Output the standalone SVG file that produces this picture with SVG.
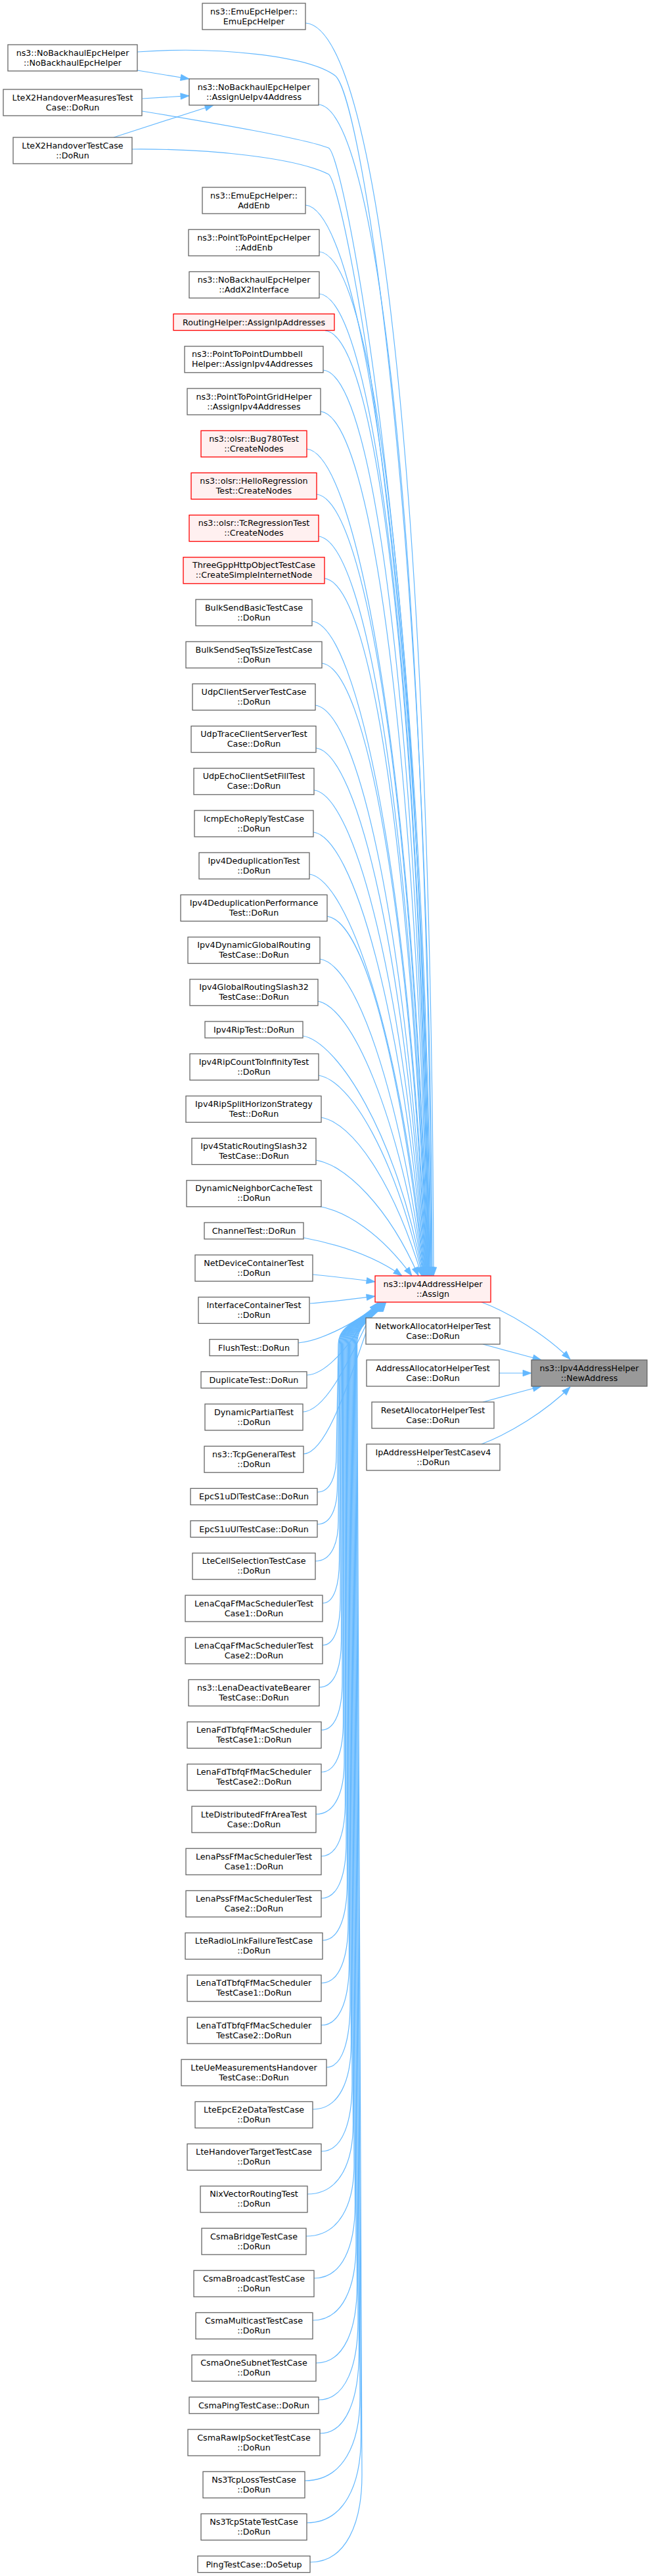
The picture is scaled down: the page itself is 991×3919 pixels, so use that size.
<svg xmlns="http://www.w3.org/2000/svg" width="991" height="3919" viewBox="0 0 991 3919">
<style>
.n rect{fill:#ffffff;stroke:#666666;stroke-width:1.3}
.r rect{fill:#fff0f0;stroke:#ff0000;stroke-width:1.3}
.g rect{fill:#999999;stroke:#666666;stroke-width:1.3}
text{font-family:"DejaVu Sans","Liberation Sans",sans-serif;font-size:12.7px;text-anchor:middle;fill:#000000}
#edges path{fill:none;stroke:#63b8ff;stroke-width:1.2;marker-end:url(#ah)}
</style>
<defs>
<marker id="ah" viewBox="0 0 13 10" refX="13" refY="5" markerWidth="13" markerHeight="10" markerUnits="userSpaceOnUse" orient="auto" overflow="visible"><path d="M0,0.3 L13,5 L0,9.7 z" fill="#63b8ff" stroke="#63b8ff" stroke-width="0.8"/></marker>
</defs>
<rect x="0" y="0" width="991" height="3919" fill="#ffffff"/>
<g id="edges">
<path d="M209,107 L288,120"/>
<path d="M216.7,150 L288,145.7"/>
<path d="M173,209 L325,160"/>
<path d="M465,35 C580,43 657,797 660,1941"/>
<path d="M209,79 C330,70 470,85 510,115 C550,145 655,800 658,1941"/>
<path d="M485,159 C578,167 651,872 657,1941"/>
<path d="M216,169 C330,188 460,210 500,225 C525,234 650,900 656,1941"/>
<path d="M201,227 C320,226 450,240 500,265 C522,276 648,900 655,1941"/>
<path d="M465,312 C554,320 645,964 654,1941"/>
<path d="M486,383 C573,391 642,1006 653.5,1941"/>
<path d="M486,447 C571,455 640,1045 653,1941"/>
<path d="M495,503 C578,511 638,1078 652.5,1941"/>
<path d="M492,563 C573,571 636,1114 652,1941"/>
<path d="M488,626 C567,634 634,1152 651.5,1941"/>
<path d="M467,683 C545,691 632,1186 651,1941"/>
<path d="M482,752 C558,760 630,1228 650.5,1941"/>
<path d="M485,816 C559,824 628,1266 650,1941"/>
<path d="M494,880 C566,888 626,1304 649.5,1941"/>
<path d="M475,945 C545,953 624,1343 649,1941"/>
<path d="M490,1009 C558,1017 622,1382 648.5,1941"/>
<path d="M480,1073 C546,1081 620,1420 648,1941"/>
<path d="M481,1138 C545,1146 618,1459 647.5,1941"/>
<path d="M478,1202 C540,1210 615.5,1498 647,1941"/>
<path d="M477,1266 C537,1274 613,1536 646.5,1941"/>
<path d="M471,1330 C529,1338 611,1574 646,1941"/>
<path d="M498,1394 C554,1402 609,1613 645.5,1941"/>
<path d="M487,1459 C541,1467 607,1652 645,1941"/>
<path d="M483,1523 C535,1531 605,1690 644.5,1941"/>
<path d="M461,1576 C512,1584 603,1722 644,1941"/>
<path d="M485,1636 C534,1644 600.6,1758 643,1941"/>
<path d="M489,1700 C536,1708 598,1796 642,1941"/>
<path d="M481,1765 C526,1773 591,1835 637,1941"/>
<path d="M485,1835 C528,1843 580,1877 627,1941"/>
<path d="M462,1883 C504,1891 563,1906 612,1941"/>
<path d="M476,1939 C510,1942 540,1946 571,1950"/>
<path d="M472,1983 C510,1980 540,1976 571,1972"/>
<path d="M454,2043 C490,2040 555,2006 575,1982"/>
<path d="M467,2092 C510,2090 555.5,2006 575.5,1982"/>
<path d="M461,2148 C508,2146 556,2006 576,1982"/>
<path d="M462,2212 C510,2210 556.5,2006 576.5,1982"/>
<path d="M483,2270 C503.3,2270 512,2245 512,2215 L515,2045 C515,2012 559,2006 577,1982"/>
<path d="M483,2319 C504.4,2319 513.5,2293 513.5,2261 L516.1,2045 C516.1,2012 559.4,2006 577.4,1982"/>
<path d="M480,2375 C504.5,2375 515,2348 515,2314 L517.2,2045 C517.2,2012 559.8,2006 577.8,1982"/>
<path d="M491,2439 C508.9,2439 516.5,2410 516.5,2375 L518.3,2045 C518.3,2012 560.2,2006 578.2,1982"/>
<path d="M491,2503 C509.9,2503 518,2473 518,2436 L519.4,2045 C519.4,2012 560.6,2006 578.6,1982"/>
<path d="M486,2567 C509.5,2567 519.5,2536 519.5,2497 L520.5,2045 C520.5,2012 561,2006 579,1982"/>
<path d="M489,2632 C511.4,2632 521,2599 521,2559 L521.6,2045 C521.6,2012 561.4,2006 579.4,1982"/>
<path d="M489,2696 C512.5,2696 522.5,2662 522.5,2620 L522.7,2045 C522.7,2012 561.8,2006 579.8,1982"/>
<path d="M481,2760 C511.1,2760 524,2724 524,2681 L523.8,2045 C523.8,2012 562.2,2006 580.2,1982"/>
<path d="M489,2824 C514.6,2824 525.5,2787 525.5,2742 L524.9,2045 C524.9,2012 562.6,2006 580.6,1982"/>
<path d="M489,2888 C515.6,2888 527,2850 527,2803 L526,2045 C526,2012 563,2006 581,1982"/>
<path d="M491,2952 C517.3,2952 528.5,2912 528.5,2864 L527.1,2045 C527.1,2012 563.4,2006 581.4,1982"/>
<path d="M489,3017 C517.7,3017 530,2976 530,2926 L528.2,2045 C528.2,2012 563.8,2006 581.8,1982"/>
<path d="M489,3081 C518.8,3081 531.5,3039 531.5,2987 L529.3,2045 C529.3,2012 564.2,2006 582.2,1982"/>
<path d="M497,3145 C522.2,3145 533,3101 533,3048 L530.4,2045 C530.4,2012 564.6,2006 582.6,1982"/>
<path d="M476,3209 C517,3209 534.5,3164 534.5,3109 L531.5,2045 C531.5,2012 565,2006 583,1982"/>
<path d="M489,3273 C521.9,3273 536,3227 536,3170 L532.6,2045 C532.6,2012 565.4,2006 583.4,1982"/>
<path d="M468,3338 C516.7,3338 537.5,3290 537.5,3232 L533.7,2045 C533.7,2012 565.8,2006 583.8,1982"/>
<path d="M466,3402 C517.1,3402 539,3353 539,3293 L534.8,2045 C534.8,2012 566.2,2006 584.2,1982"/>
<path d="M478,3466 C521.8,3466 540.5,3416 540.5,3354 L535.9,2045 C535.9,2012 566.6,2006 584.6,1982"/>
<path d="M476,3530 C522.2,3530 542,3478 542,3415 L537,2045 C537,2012 567,2006 585,1982"/>
<path d="M481,3595 C524.8,3595 543.5,3542 543.5,3477 L538.1,2045 C538.1,2012 567.4,2006 585.4,1982"/>
<path d="M485,3651 C527,3651 545,3597 545,3530 L539.2,2045 C539.2,2012 567.8,2006 585.8,1982"/>
<path d="M487,3702 C528.6,3702 546.5,3646 546.5,3578 L540.3,2045 C540.3,2012 568.2,2006 586.2,1982"/>
<path d="M464,3774 C522.8,3774 548,3717 548,3647 L541.4,2045 C541.4,2012 568.6,2006 586.6,1982"/>
<path d="M467,3838 C524,3838 549.5,3780 549.5,3708 L542.5,2045 C542.5,2012 569,2006 587,1982"/>
<path d="M472,3898 C527.3,3898 551,3838 551,3765 L543.6,2045 C543.6,2012 569.4,2006 587.4,1982"/>
<path d="M733,1981 C775,1997 830,2030 868,2068"/>
<path d="M735,2045 L824,2069"/>
<path d="M760,2089 L809,2089"/>
<path d="M735,2133 L824,2109"/>
<path d="M733,2197 C775,2181 830,2148 868,2110"/>
</g>
<g id="node1" class="n"><rect x="308" y="5" width="157" height="40"/><text x="386.5" y="21.5">ns3::EmuEpcHelper::</text><text x="386.5" y="36.5">EmuEpcHelper</text></g>
<g id="nodeL1" class="n"><rect x="12" y="68" width="197" height="40"/><text x="110.5" y="84.5">ns3::NoBackhaulEpcHelper</text><text x="110.5" y="99.5">::NoBackhaulEpcHelper</text></g>
<g id="nodeL2" class="n"><rect x="5" y="136" width="211" height="40"/><text x="110.5" y="152.5">LteX2HandoverMeasuresTest</text><text x="110.5" y="167.5">Case::DoRun</text></g>
<g id="nodeL3" class="n"><rect x="20" y="209" width="181" height="40"/><text x="110.5" y="225.5">LteX2HandoverTestCase</text><text x="110.5" y="240.5">::DoRun</text></g>
<g id="node2" class="n"><rect x="288" y="120" width="197" height="40"/><text x="386.5" y="136.5">ns3::NoBackhaulEpcHelper</text><text x="386.5" y="151.5">::AssignUeIpv4Address</text></g>
<g id="node3" class="n"><rect x="308" y="285" width="157" height="40"/><text x="386.5" y="301.5">ns3::EmuEpcHelper::</text><text x="386.5" y="316.5">AddEnb</text></g>
<g id="node4" class="n"><rect x="287" y="349.2" width="199" height="40"/><text x="386.5" y="365.7">ns3::PointToPointEpcHelper</text><text x="386.5" y="380.7">::AddEnb</text></g>
<g id="node5" class="n"><rect x="288" y="413.4" width="198" height="40"/><text x="386.5" y="429.9">ns3::NoBackhaulEpcHelper</text><text x="386.5" y="444.9">::AddX2Interface</text></g>
<g id="node6" class="r"><rect x="264" y="477.6" width="245" height="25"/><text x="386.5" y="494.6">RoutingHelper::AssignIpAddresses</text></g>
<g id="node7" class="n"><rect x="281" y="526.8" width="211" height="40"/><text x="292" y="543.3" style="text-anchor:start">ns3::PointToPointDumbbell</text><text x="292" y="558.3" style="text-anchor:start">Helper::AssignIpv4Addresses</text></g>
<g id="node8" class="n"><rect x="285" y="591" width="203" height="40"/><text x="386.5" y="607.5">ns3::PointToPointGridHelper</text><text x="386.5" y="622.5">::AssignIpv4Addresses</text></g>
<g id="node9" class="r"><rect x="306" y="655.2" width="161" height="40"/><text x="386.5" y="671.7">ns3::olsr::Bug780Test</text><text x="386.5" y="686.7">::CreateNodes</text></g>
<g id="node10" class="r"><rect x="291" y="719.4" width="191" height="40"/><text x="386.5" y="735.9">ns3::olsr::HelloRegression</text><text x="386.5" y="750.9">Test::CreateNodes</text></g>
<g id="node11" class="r"><rect x="288" y="783.6" width="197" height="40"/><text x="386.5" y="800.1">ns3::olsr::TcRegressionTest</text><text x="386.5" y="815.1">::CreateNodes</text></g>
<g id="node12" class="r"><rect x="279" y="847.8" width="215" height="40"/><text x="386.5" y="864.3">ThreeGppHttpObjectTestCase</text><text x="386.5" y="879.3">::CreateSimpleInternetNode</text></g>
<g id="node13" class="n"><rect x="298" y="912" width="177" height="40"/><text x="386.5" y="928.5">BulkSendBasicTestCase</text><text x="386.5" y="943.5">::DoRun</text></g>
<g id="node14" class="n"><rect x="283" y="976.2" width="207" height="40"/><text x="386.5" y="992.7">BulkSendSeqTsSizeTestCase</text><text x="386.5" y="1007.7">::DoRun</text></g>
<g id="node15" class="n"><rect x="293" y="1040.4" width="187" height="40"/><text x="386.5" y="1056.9">UdpClientServerTestCase</text><text x="386.5" y="1071.9">::DoRun</text></g>
<g id="node16" class="n"><rect x="291" y="1104.6" width="190" height="40"/><text x="386.5" y="1121.1">UdpTraceClientServerTest</text><text x="386.5" y="1136.1">Case::DoRun</text></g>
<g id="node17" class="n"><rect x="295" y="1168.8" width="183" height="40"/><text x="386.5" y="1185.3">UdpEchoClientSetFillTest</text><text x="386.5" y="1200.3">Case::DoRun</text></g>
<g id="node18" class="n"><rect x="296" y="1233" width="181" height="40"/><text x="386.5" y="1249.5">IcmpEchoReplyTestCase</text><text x="386.5" y="1264.5">::DoRun</text></g>
<g id="node19" class="n"><rect x="303" y="1297.2" width="168" height="40"/><text x="386.5" y="1313.7">Ipv4DeduplicationTest</text><text x="386.5" y="1328.7">::DoRun</text></g>
<g id="node20" class="n"><rect x="275" y="1361.4" width="223" height="40"/><text x="386.5" y="1377.9">Ipv4DeduplicationPerformance</text><text x="386.5" y="1392.9">Test::DoRun</text></g>
<g id="node21" class="n"><rect x="286" y="1425.6" width="201" height="40"/><text x="386.5" y="1442.1">Ipv4DynamicGlobalRouting</text><text x="386.5" y="1457.1">TestCase::DoRun</text></g>
<g id="node22" class="n"><rect x="289" y="1489.8" width="195" height="40"/><text x="386.5" y="1506.3">Ipv4GlobalRoutingSlash32</text><text x="386.5" y="1521.3">TestCase::DoRun</text></g>
<g id="node23" class="n"><rect x="312" y="1554" width="149" height="25"/><text x="386.5" y="1571">Ipv4RipTest::DoRun</text></g>
<g id="node24" class="n"><rect x="289" y="1603.2" width="196" height="40"/><text x="386.5" y="1619.7">Ipv4RipCountToInfinityTest</text><text x="386.5" y="1634.7">::DoRun</text></g>
<g id="node25" class="n"><rect x="283" y="1667.4" width="206" height="40"/><text x="386.5" y="1683.9">Ipv4RipSplitHorizonStrategy</text><text x="386.5" y="1698.9">Test::DoRun</text></g>
<g id="node26" class="n"><rect x="292" y="1731.6" width="189" height="40"/><text x="386.5" y="1748.1">Ipv4StaticRoutingSlash32</text><text x="386.5" y="1763.1">TestCase::DoRun</text></g>
<g id="node27" class="n"><rect x="284" y="1795.8" width="205" height="40"/><text x="386.5" y="1812.3">DynamicNeighborCacheTest</text><text x="386.5" y="1827.3">::DoRun</text></g>
<g id="node28" class="n"><rect x="311" y="1860" width="151" height="25"/><text x="386.5" y="1877">ChannelTest::DoRun</text></g>
<g id="node29" class="n"><rect x="297" y="1909.2" width="179" height="40"/><text x="386.5" y="1925.7">NetDeviceContainerTest</text><text x="386.5" y="1940.7">::DoRun</text></g>
<g id="node30" class="n"><rect x="302" y="1973.4" width="169" height="40"/><text x="386.5" y="1989.9">InterfaceContainerTest</text><text x="386.5" y="2004.9">::DoRun</text></g>
<g id="node31" class="n"><rect x="319" y="2037.6" width="135" height="25"/><text x="386.5" y="2054.6">FlushTest::DoRun</text></g>
<g id="node32" class="n"><rect x="306" y="2086.8" width="161" height="25"/><text x="386.5" y="2103.8">DuplicateTest::DoRun</text></g>
<g id="node33" class="n"><rect x="312" y="2136" width="149" height="40"/><text x="386.5" y="2152.5">DynamicPartialTest</text><text x="386.5" y="2167.5">::DoRun</text></g>
<g id="node34" class="n"><rect x="311" y="2200.2" width="151" height="40"/><text x="386.5" y="2216.7">ns3::TcpGeneralTest</text><text x="386.5" y="2231.7">::DoRun</text></g>
<g id="node35" class="n"><rect x="290" y="2264.4" width="193" height="25"/><text x="386.5" y="2281.4">EpcS1uDlTestCase::DoRun</text></g>
<g id="node36" class="n"><rect x="290" y="2313.6" width="193" height="25"/><text x="386.5" y="2330.6">EpcS1uUlTestCase::DoRun</text></g>
<g id="node37" class="n"><rect x="293" y="2362.8" width="187" height="40"/><text x="386.5" y="2379.3">LteCellSelectionTestCase</text><text x="386.5" y="2394.3">::DoRun</text></g>
<g id="node38" class="n"><rect x="282" y="2427" width="209" height="40"/><text x="386.5" y="2443.5">LenaCqaFfMacSchedulerTest</text><text x="386.5" y="2458.5">Case1::DoRun</text></g>
<g id="node39" class="n"><rect x="282" y="2491.2" width="209" height="40"/><text x="386.5" y="2507.7">LenaCqaFfMacSchedulerTest</text><text x="386.5" y="2522.7">Case2::DoRun</text></g>
<g id="node40" class="n"><rect x="287" y="2555.4" width="199" height="40"/><text x="386.5" y="2571.9">ns3::LenaDeactivateBearer</text><text x="386.5" y="2586.9">TestCase::DoRun</text></g>
<g id="node41" class="n"><rect x="285" y="2619.6" width="204" height="40"/><text x="386.5" y="2636.1">LenaFdTbfqFfMacScheduler</text><text x="386.5" y="2651.1">TestCase1::DoRun</text></g>
<g id="node42" class="n"><rect x="285" y="2683.8" width="204" height="40"/><text x="386.5" y="2700.3">LenaFdTbfqFfMacScheduler</text><text x="386.5" y="2715.3">TestCase2::DoRun</text></g>
<g id="node43" class="n"><rect x="292" y="2748" width="189" height="40"/><text x="386.5" y="2764.5">LteDistributedFfrAreaTest</text><text x="386.5" y="2779.5">Case::DoRun</text></g>
<g id="node44" class="n"><rect x="283" y="2812.2" width="206" height="40"/><text x="386.5" y="2828.7">LenaPssFfMacSchedulerTest</text><text x="386.5" y="2843.7">Case1::DoRun</text></g>
<g id="node45" class="n"><rect x="283" y="2876.4" width="206" height="40"/><text x="386.5" y="2892.9">LenaPssFfMacSchedulerTest</text><text x="386.5" y="2907.9">Case2::DoRun</text></g>
<g id="node46" class="n"><rect x="282" y="2940.6" width="209" height="40"/><text x="386.5" y="2957.1">LteRadioLinkFailureTestCase</text><text x="386.5" y="2972.1">::DoRun</text></g>
<g id="node47" class="n"><rect x="285" y="3004.8" width="204" height="40"/><text x="386.5" y="3021.3">LenaTdTbfqFfMacScheduler</text><text x="386.5" y="3036.3">TestCase1::DoRun</text></g>
<g id="node48" class="n"><rect x="285" y="3069" width="204" height="40"/><text x="386.5" y="3085.5">LenaTdTbfqFfMacScheduler</text><text x="386.5" y="3100.5">TestCase2::DoRun</text></g>
<g id="node49" class="n"><rect x="276" y="3133.2" width="221" height="40"/><text x="386.5" y="3149.7">LteUeMeasurementsHandover</text><text x="386.5" y="3164.7">TestCase::DoRun</text></g>
<g id="node50" class="n"><rect x="297" y="3197.4" width="179" height="40"/><text x="386.5" y="3213.9">LteEpcE2eDataTestCase</text><text x="386.5" y="3228.9">::DoRun</text></g>
<g id="node51" class="n"><rect x="285" y="3261.6" width="204" height="40"/><text x="386.5" y="3278.1">LteHandoverTargetTestCase</text><text x="386.5" y="3293.1">::DoRun</text></g>
<g id="node52" class="n"><rect x="305" y="3325.8" width="163" height="40"/><text x="386.5" y="3342.3">NixVectorRoutingTest</text><text x="386.5" y="3357.3">::DoRun</text></g>
<g id="node53" class="n"><rect x="307" y="3390" width="159" height="40"/><text x="386.5" y="3406.5">CsmaBridgeTestCase</text><text x="386.5" y="3421.5">::DoRun</text></g>
<g id="node54" class="n"><rect x="295" y="3454.2" width="183" height="40"/><text x="386.5" y="3470.7">CsmaBroadcastTestCase</text><text x="386.5" y="3485.7">::DoRun</text></g>
<g id="node55" class="n"><rect x="298" y="3518.4" width="178" height="40"/><text x="386.5" y="3534.9">CsmaMulticastTestCase</text><text x="386.5" y="3549.9">::DoRun</text></g>
<g id="node56" class="n"><rect x="292" y="3582.6" width="189" height="40"/><text x="386.5" y="3599.1">CsmaOneSubnetTestCase</text><text x="386.5" y="3614.1">::DoRun</text></g>
<g id="node57" class="n"><rect x="288" y="3646.8" width="197" height="25"/><text x="386.5" y="3663.8">CsmaPingTestCase::DoRun</text></g>
<g id="node58" class="n"><rect x="286" y="3696" width="201" height="40"/><text x="386.5" y="3712.5">CsmaRawIpSocketTestCase</text><text x="386.5" y="3727.5">::DoRun</text></g>
<g id="node59" class="n"><rect x="309" y="3760.2" width="155" height="40"/><text x="386.5" y="3776.7">Ns3TcpLossTestCase</text><text x="386.5" y="3791.7">::DoRun</text></g>
<g id="node60" class="n"><rect x="306" y="3824.4" width="161" height="40"/><text x="386.5" y="3840.9">Ns3TcpStateTestCase</text><text x="386.5" y="3855.9">::DoRun</text></g>
<g id="node61" class="n"><rect x="301" y="3888.6" width="171" height="25"/><text x="386.5" y="3905.6">PingTestCase::DoSetup</text></g>
<g id="nodeAssign" class="r"><rect x="571" y="1941" width="176" height="40"/><text x="659" y="1957.5">ns3::Ipv4AddressHelper</text><text x="659" y="1972.5">::Assign</text></g>
<g id="nodeR2" class="n"><rect x="557" y="2005" width="204" height="40"/><text x="659" y="2021.5">NetworkAllocatorHelperTest</text><text x="659" y="2036.5">Case::DoRun</text></g>
<g id="nodeR3" class="n"><rect x="558" y="2069" width="202" height="40"/><text x="659" y="2085.5">AddressAllocatorHelperTest</text><text x="659" y="2100.5">Case::DoRun</text></g>
<g id="nodeR4" class="n"><rect x="566" y="2133" width="186" height="40"/><text x="659" y="2149.5">ResetAllocatorHelperTest</text><text x="659" y="2164.5">Case::DoRun</text></g>
<g id="nodeR5" class="n"><rect x="558" y="2197" width="203" height="40"/><text x="659.5" y="2213.5">IpAddressHelperTestCasev4</text><text x="659.5" y="2228.5">::DoRun</text></g>
<g id="nodeNewAddress" class="g"><rect x="809" y="2069" width="176" height="40"/><text x="897" y="2085.5">ns3::Ipv4AddressHelper</text><text x="897" y="2100.5">::NewAddress</text></g>
</svg>
